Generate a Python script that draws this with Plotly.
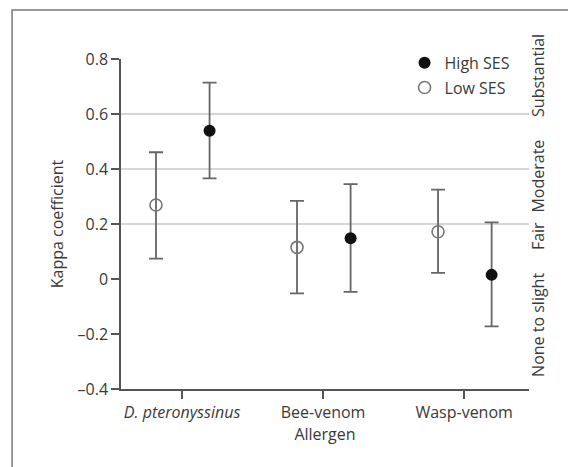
import plotly.graph_objects as go

# Data
categories = ["D. pteronyssinus", "Bee-venom", "Wasp-venom"]
tick_labels = ["<i>D. pteronyssinus</i>", "Bee-venom", "Wasp-venom"]
low_kappa = [0.269, 0.115, 0.172]
low_upper = [0.461, 0.284, 0.325]
low_lower = [0.074, -0.052, 0.022]
high_kappa = [0.539, 0.148, 0.015]
high_upper = [0.714, 0.345, 0.206]
high_lower = [0.366, -0.047, -0.172]
y_tick_vals = [-0.4, -0.2, 0, 0.2, 0.4, 0.6, 0.8]
y_tick_text = ["\u20130.4", "\u20130.2", "0", "0.2", "0.4", "0.6", "0.8"]
reference_lines = [0.2, 0.4, 0.6]
band_labels = ["Substantial", "Moderate", "Fair", "None to slight"]
band_label_pos = [0.742, 0.376, 0.156, -0.167]

idx = list(range(len(categories)))
low_x = [i - 0.185 for i in idx]
high_x = [i + 0.195 for i in idx]

FONT = "Open Sans"
FS = 16
TXT = "#3a3a3a"
fig = go.Figure()

fig.add_trace(go.Scatter(
    x=low_x, y=low_kappa, mode="markers", name="Low SES", legendrank=2, legendgroup="low",
    marker=dict(symbol="circle-open", size=12, color="#777777", line=dict(width=1.6)),
    error_y=dict(type="data", symmetric=False,
                 array=[u - k for u, k in zip(low_upper, low_kappa)],
                 arrayminus=[k - l for k, l in zip(low_kappa, low_lower)],
                 color="#666666", thickness=1.8, width=7),
))
fig.add_trace(go.Scatter(
    x=high_x, y=high_kappa, mode="markers", name="High SES", legendrank=1, legendgroup="high",
    marker=dict(symbol="circle", size=12, color="#111111"),
    error_y=dict(type="data", symmetric=False,
                 array=[u - k for u, k in zip(high_upper, high_kappa)],
                 arrayminus=[k - l for k, l in zip(high_kappa, high_lower)],
                 color="#666666", thickness=1.8, width=7),
))

for yv in reference_lines:
    fig.add_shape(type="line", xref="paper", yref="y", x0=0, x1=1, y0=yv, y1=yv,
                  line=dict(color="#d6d6d6", width=1.8), layer="below")

for lab, yv in zip(band_labels, band_label_pos):
    fig.add_annotation(text=lab, xref="paper", yref="y", x=1.022, y=yv,
                       textangle=-90, showarrow=False, xanchor="center", yanchor="middle",
                       font=dict(family=FONT, size=FS, color=TXT))

# outer frame
fig.add_shape(type="rect", xref="paper", yref="paper", x0=-0.267, x1=1.2, y0=-0.35, y1=1.1485,
              line=dict(color="#7a7a7a", width=1.5), fillcolor="rgba(0,0,0,0)")

fig.update_layout(
    width=568, height=459,
    margin=dict(l=113, r=47, t=51, b=78),
    paper_bgcolor="white", plot_bgcolor="white",
    font=dict(family=FONT, size=FS, color=TXT),
    showlegend=True,
    legend=dict(x=0.695, y=1.04, xanchor="left", yanchor="top",
                bgcolor="rgba(0,0,0,0)", font=dict(size=FS, color=TXT),
                traceorder="grouped", tracegroupgap=1, itemwidth=30),
    xaxis=dict(range=[-0.433, 2.46], tickmode="array", tickvals=idx, ticktext=tick_labels,
               showline=True, linecolor="#555555", linewidth=1.5, ticks="outside",
               ticklen=8, tickcolor="#555555", tickwidth=1.5, showgrid=False, zeroline=False,
               title=dict(text="Allergen", standoff=7, font=dict(size=FS, color=TXT))),
    yaxis=dict(range=[-0.4, 0.8], tickmode="array", tickvals=y_tick_vals, ticktext=y_tick_text,
               showline=True, linecolor="#555555", linewidth=1.5, ticks="outside",
               ticklen=8, tickcolor="#555555", tickwidth=1.5, showgrid=False, zeroline=False,
               title=dict(text="Kappa coefficient", standoff=10, font=dict(size=FS, color=TXT))),
)

fig.write_html("out.html")
